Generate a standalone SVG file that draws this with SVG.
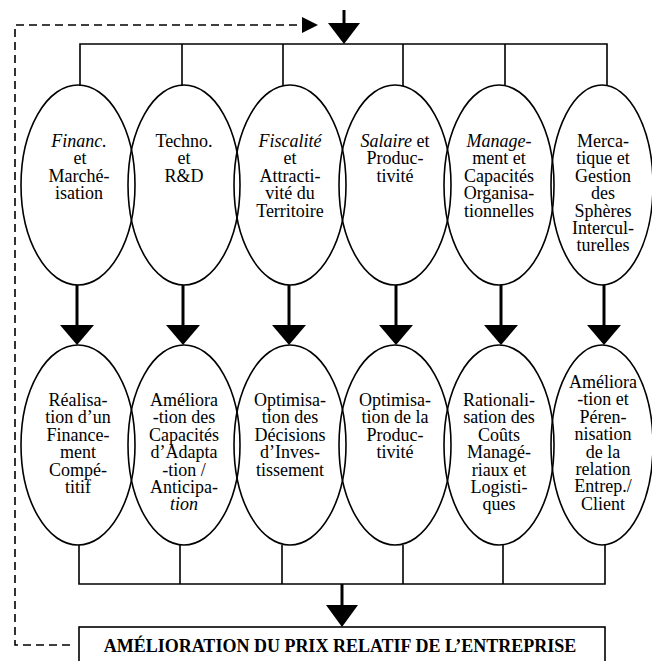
<svg xmlns="http://www.w3.org/2000/svg" width="652" height="661" viewBox="0 0 652 661">
<style>
.el{fill:none;stroke:#000;stroke-width:1.6}
.ln{fill:none;stroke:#000;stroke-width:1.6}
.st{fill:none;stroke:#000;stroke-width:3}
.ah{fill:#000;stroke:none}
.dash{fill:none;stroke:#000;stroke-width:1.6;stroke-dasharray:8 5}
text{font-family:"Liberation Serif","Times New Roman",serif;font-size:18px;fill:#000;text-anchor:middle}
.i{font-style:italic}
.bx{fill:#fff;stroke:#000;stroke-width:1.6}
.bt{font-weight:bold;font-size:18px}
</style>
<rect width="652" height="661" fill="#fff"/>
<g id="connectors">
  <path class="dash" d="M70 645 H15 V25 H303"/>
  <polygon class="ah" points="302,17 318,25 302,33"/>
  <line class="st" x1="344" y1="10" x2="344" y2="25"/>
  <polygon class="ah" points="328,23 360,23 344,44"/>
  <path class="ln" d="M80 86 V44 H607 V86 M182 44 V86 M283 44 V86 M403 44 V86 M505 44 V86"/>
  <g>
    <line class="st" x1="77" y1="285" x2="77" y2="326"/><polygon class="ah" points="60,325 94,325 77,345"/>
    <line class="st" x1="183" y1="285" x2="183" y2="326"/><polygon class="ah" points="166,325 200,325 183,345"/>
    <line class="st" x1="289" y1="285" x2="289" y2="326"/><polygon class="ah" points="272,325 306,325 289,345"/>
    <line class="st" x1="396" y1="285" x2="396" y2="326"/><polygon class="ah" points="379,325 413,325 396,345"/>
    <line class="st" x1="501" y1="285" x2="501" y2="326"/><polygon class="ah" points="484,325 518,325 501,345"/>
    <line class="st" x1="604" y1="285" x2="604" y2="326"/><polygon class="ah" points="587,325 621,325 604,345"/>
  </g>
  <path class="ln" d="M79 545 V584 H605 V545 M180 545 V584 M282 545 V584 M403 545 V584 M503 545 V584"/>
  <line class="st" x1="342" y1="584" x2="342" y2="607"/>
  <polygon class="ah" points="326,605 358,605 342,627"/>
</g>
<g id="n1">
  <ellipse class="el" cx="78" cy="185" rx="57" ry="100"/>
  <text x="79" y="147"><tspan class="i">Financ.</tspan><tspan x="80" dy="17.4">et</tspan><tspan x="79" dy="17.4">Marché-</tspan><tspan x="79" dy="17.4">isation</tspan></text>
</g>
<g id="n2">
  <ellipse class="el" cx="184" cy="185" rx="56" ry="100"/>
  <text x="184" y="147">Techno.<tspan x="184" dy="17.4">et</tspan><tspan x="184" dy="17.4">R&amp;D</tspan></text>
</g>
<g id="n3">
  <ellipse class="el" cx="290" cy="185" rx="56" ry="100"/>
  <text x="290" y="147"><tspan class="i">Fiscalité</tspan><tspan x="290" dy="17.4">et</tspan><tspan x="290" dy="17.4">Attracti-</tspan><tspan x="290" dy="17.4">vité du</tspan><tspan x="290" dy="17.4">Territoire</tspan></text>
</g>
<g id="n4">
  <ellipse class="el" cx="395" cy="185" rx="56" ry="100"/>
  <text x="395" y="147"><tspan class="i">Salaire</tspan> et<tspan x="395" dy="17.4">Produc-</tspan><tspan x="395" dy="17.4">tivité</tspan></text>
</g>
<g id="n5">
  <ellipse class="el" cx="499" cy="185" rx="55" ry="100"/>
  <text x="499" y="147"><tspan class="i">Manage-</tspan><tspan x="499" dy="17.4">ment et</tspan><tspan x="499" dy="17.4">Capacités</tspan><tspan x="499" dy="17.4">Organisa-</tspan><tspan x="499" dy="17.4">tionnelles</tspan></text>
</g>
<g id="n6">
  <ellipse class="el" cx="602" cy="185" rx="51" ry="100"/>
  <text x="603" y="147">Merca-<tspan x="603" dy="17.4">tique et</tspan><tspan x="603" dy="17.4">Gestion</tspan><tspan x="603" dy="17.4">des</tspan><tspan x="603" dy="17.4">Sphères</tspan><tspan x="603" dy="17.4">Intercul-</tspan><tspan x="603" dy="17.4">turelles</tspan></text>
</g>
<g id="m1">
  <ellipse class="el" cx="78" cy="445" rx="57" ry="100"/>
  <text x="78" y="406">Réalisa-<tspan x="78" dy="17.4">tion d’un</tspan><tspan x="78" dy="17.4">Finance-</tspan><tspan x="78" dy="17.4">ment</tspan><tspan x="78" dy="17.4">Compé-</tspan><tspan x="78" dy="17.4">titif</tspan></text>
</g>
<g id="m2">
  <ellipse class="el" cx="184" cy="445" rx="56" ry="100"/>
  <text x="184" y="406">Améliora<tspan x="184" dy="17.4">-tion des</tspan><tspan x="184" dy="17.4">Capacités</tspan><tspan x="184" dy="17.4">d’Adapta</tspan><tspan x="184" dy="17.4">-tion /</tspan><tspan x="184" dy="17.4">Anticipa-</tspan><tspan x="184" dy="17.4" class="i">tion</tspan></text>
</g>
<g id="m3">
  <ellipse class="el" cx="290" cy="445" rx="56" ry="100"/>
  <text x="290" y="406">Optimisa-<tspan x="290" dy="17.4">tion des</tspan><tspan x="290" dy="17.4">Décisions</tspan><tspan x="290" dy="17.4">d’Inves-</tspan><tspan x="290" dy="17.4">tissement</tspan></text>
</g>
<g id="m4">
  <ellipse class="el" cx="395" cy="445" rx="56" ry="100"/>
  <text x="395" y="406">Optimisa-<tspan x="395" dy="17.4">tion de la</tspan><tspan x="395" dy="17.4">Produc-</tspan><tspan x="395" dy="17.4">tivité</tspan></text>
</g>
<g id="m5">
  <ellipse class="el" cx="499" cy="445" rx="55" ry="100"/>
  <text x="499" y="406">Rationali-<tspan x="499" dy="17.4">sation des</tspan><tspan x="499" dy="17.4">Coûts</tspan><tspan x="499" dy="17.4">Managé-</tspan><tspan x="499" dy="17.4">riaux et</tspan><tspan x="499" dy="17.4">Logisti-</tspan><tspan x="499" dy="17.4">ques</tspan></text>
</g>
<g id="m6">
  <ellipse class="el" cx="602" cy="445" rx="51" ry="100"/>
  <text x="603" y="388">Améliora<tspan x="603" dy="17.4">-tion et</tspan><tspan x="603" dy="17.4">Péren-</tspan><tspan x="603" dy="17.4">nisation</tspan><tspan x="603" dy="17.4">de la</tspan><tspan x="603" dy="17.4">relation</tspan><tspan x="603" dy="17.4">Entrep./</tspan><tspan x="603" dy="17.4">Client</tspan></text>
</g>
<g id="result">
  <rect class="bx" x="79" y="627" width="526" height="50"/>
  <text class="bt" x="340" y="652">AMÉLIORATION DU PRIX RELATIF DE L’ENTREPRISE</text>
</g>
</svg>
